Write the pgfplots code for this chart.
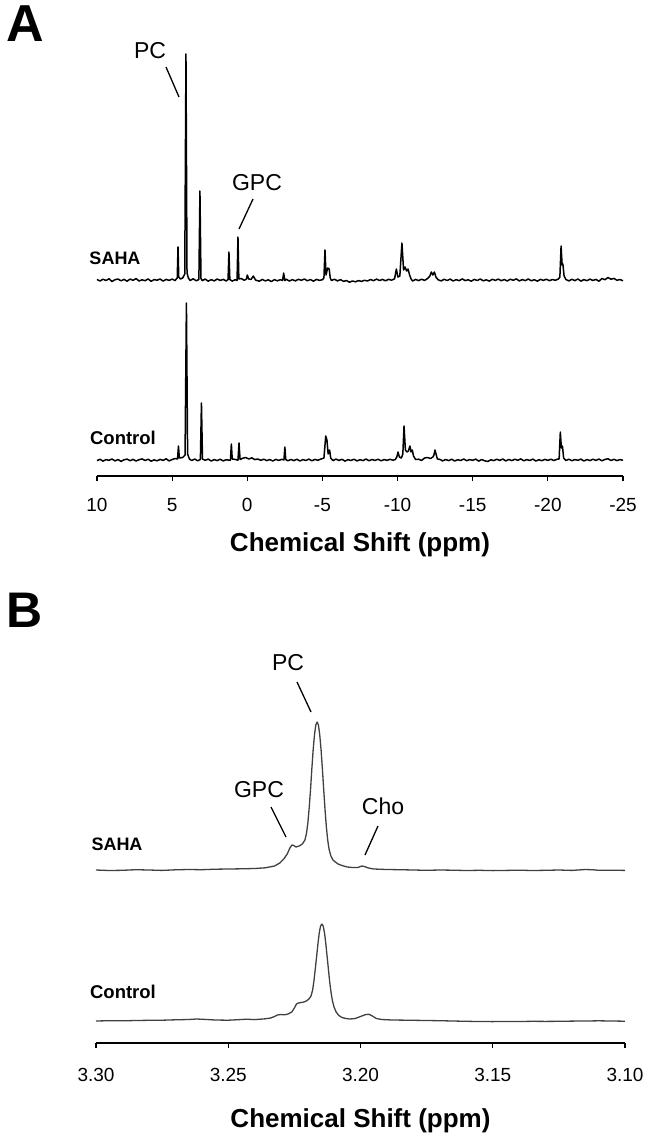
\documentclass[border=0pt]{standalone}
\usepackage{fontspec}
\setmainfont{Liberation Sans}
\usepackage{pgfplots}
\usepackage{pgfplotstable}
\pgfplotsset{compat=1.18}

% panel A, 31P spectra (ppm, intensity)
\pgfplotstableread{
ppm int
10.0 0.5
9.8 -1.0
9.6 0.8
9.4 -0.5
9.2 1.2
9.0 -1.5
8.8 0.3
8.6 1.0
8.4 -0.8
8.2 0.6
8.0 -1.2
7.8 0.9
7.6 -0.3
7.4 1.4
7.2 -1.0
7.0 0.2
6.8 -0.7
6.6 1.1
6.4 -1.3
6.2 0.4
6.0 -0.2
5.8 1.0
5.6 -1.1
5.4 0.6
5.2 -0.4
5.0 0.9
4.8 -0.6
4.7 1.5
4.66 2
4.61 33
4.56 3
4.45 1
4.3 2
4.16 6
4.08 226
4.01 7
3.92 2
3.8 -0.5
3.6 1.2
3.4 -0.8
3.22 0.5
3.15 89
3.08 1.5
3.0 -0.6
2.8 0.9
2.6 -1.2
2.4 0.4
2.2 -0.9
2.0 1.0
1.8 -0.4
1.6 0.6
1.4 -1.0
1.28 0.5
1.22 28
1.16 0.5
1.0 -1.1
0.8 0.3
0.68 -0.5
0.62 43
0.56 1
0.4 1.5
0.2 -0.3
0.05 1
0.0 5
-0.1 1
-0.25 0.5
-0.4 4
-0.55 0
-0.8 -1.2
-1.0 0.6
-1.2 -0.9
-1.4 0.2
-1.6 -1.6
-1.8 0.4
-2.0 -0.8
-2.2 0.3
-2.35 -0.5
-2.42 7
-2.5 -0.6
-2.6 0.8
-2.8 -1.1
-3.0 0.4
-3.2 -0.9
-3.4 0.7
-3.6 -0.3
-3.8 1.0
-4.0 -0.8
-4.2 0.5
-4.4 -1.2
-4.6 0.6
-4.8 -0.4
-5.0 0.3
-5.1 2
-5.17 30
-5.24 5
-5.35 12
-5.45 11
-5.52 2
-5.6 -0.5
-5.8 0.8
-6.0 -0.9
-6.2 0.4
-6.4 -1.3
-6.6 -0.6
-6.8 -2.2
-7.0 -1.0
-7.2 -1.8
-7.4 -0.6
-7.6 -1.4
-7.8 -0.3
-8.0 -1.0
-8.2 0.5
-8.4 -0.7
-8.6 0.9
-8.8 -0.5
-9.0 0.6
-9.2 -0.8
-9.4 0.7
-9.6 -0.2
-9.8 1.2
-9.92 11
-10.02 3
-10.15 4
-10.29 37
-10.4 10
-10.5 13
-10.6 9
-10.7 11
-10.8 5
-10.9 1
-11.0 -1.0
-11.2 0.6
-11.4 -0.6
-11.6 0.8
-11.8 -0.4
-12.0 1.5
-12.15 4
-12.25 8
-12.35 5
-12.45 8
-12.55 3
-12.7 0.2
-12.9 -0.9
-13.1 0.7
-13.3 -0.5
-13.5 0.9
-13.7 -1.0
-13.9 0.4
-14.1 -0.7
-14.3 1.1
-14.5 -0.6
-14.7 0.3
-14.9 -1.2
-15.1 0.6
-15.3 -0.5
-15.5 1.0
-15.7 -0.8
-15.9 0.2
-16.1 -1.1
-16.3 0.7
-16.5 -0.4
-16.7 0.9
-16.9 -0.7
-17.1 0.5
-17.3 -1.0
-17.5 0.8
-17.7 -0.3
-17.9 1.1
-18.1 -0.9
-18.3 0.4
-18.5 -0.6
-18.7 1.0
-18.9 -0.8
-19.1 0.3
-19.3 -1.2
-19.5 0.6
-19.7 -0.4
-19.9 0.8
-20.1 -0.7
-20.3 0.5
-20.5 -0.3
-20.7 1.0
-20.8 3
-20.88 34
-20.95 15
-21.0 16
-21.08 4
-21.2 0.5
-21.4 -0.9
-21.6 0.7
-21.8 -0.6
-22.0 1.0
-22.2 -1.1
-22.4 0.4
-22.6 -0.7
-22.8 0.9
-23.0 -0.5
-23.2 0.6
-23.4 -1.2
-23.6 1.5
-23.8 0.3
-24.0 2.5
-24.2 0.8
-24.4 1.6
-24.6 -0.3
-24.8 0.5
-25.0 -0.8
}\sahaA

\pgfplotstableread{
ppm int
10.0 -0.6
9.8 0.7
9.6 -1.1
9.4 0.4
9.2 -0.3
9.0 1.0
8.8 -0.9
8.6 0.5
8.4 -1.4
8.2 0.2
8.0 0.9
7.8 -0.7
7.6 0.6
7.4 -1.0
7.2 0.3
7.0 1.1
6.8 -0.5
6.6 0.8
6.4 -1.2
6.2 0.1
6.0 -0.8
5.8 0.6
5.6 -0.4
5.4 1.2
5.2 -0.9
5.0 0.5
4.8 1.5
4.64 1
4.58 14
4.52 2
4.3 2.5
4.14 5
4.05 157
3.97 6
3.85 1
3.7 -0.5
3.5 1.0
3.3 -0.8
3.12 0.6
3.05 57
2.98 1
2.8 -0.3
2.6 0.9
2.4 -1.0
2.2 0.4
2.0 -0.6
1.8 0.8
1.6 -0.9
1.4 0.3
1.2 -0.2
1.12 0
1.06 16
1.0 1
0.8 0.6
0.62 -0.2
0.55 17
0.48 0.5
0.3 1.8
0.1 2.5
-0.1 1.0
-0.3 2.2
-0.5 0.4
-0.7 1.0
-0.9 -0.3
-1.1 0.8
-1.3 -0.6
-1.5 0.5
-1.7 -1.0
-1.9 0.6
-2.1 -0.4
-2.3 0.7
-2.44 0
-2.5 13
-2.56 0.5
-2.7 -0.8
-2.9 0.5
-3.1 -0.6
-3.3 0.8
-3.5 -1.0
-3.7 0.4
-3.9 -0.5
-4.1 0.9
-4.3 -0.8
-4.5 0.6
-4.7 -0.3
-4.9 1.0
-5.1 2
-5.22 24
-5.3 20
-5.38 6
-5.48 10
-5.55 2
-5.7 -0.6
-5.9 0.9
-6.1 -0.4
-6.3 0.7
-6.5 -1.1
-6.7 0.4
-6.9 -0.5
-7.1 0.8
-7.3 -0.9
-7.5 0.3
-7.7 -0.6
-7.9 1.0
-8.1 -0.7
-8.3 0.5
-8.5 -0.4
-8.7 0.8
-8.9 -0.8
-9.1 0.4
-9.3 -0.3
-9.5 0.7
-9.7 -0.2
-9.85 0.5
-9.95 3
-10.03 8
-10.12 3
-10.25 2
-10.35 6
-10.43 34
-10.52 10
-10.62 8
-10.72 9
-10.82 14
-10.9 8
-10.98 10
-11.06 4
-11.2 0.5
-11.4 0.8
-11.6 -0.4
-11.8 2
-12.0 2.5
-12.2 1.5
-12.35 3
-12.42 5
-12.49 10
-12.56 6
-12.65 1
-12.8 0.7
-13.0 -0.9
-13.2 0.5
-13.4 -0.6
-13.6 0.8
-13.8 -1.0
-14.0 0.3
-14.2 -0.5
-14.4 1.0
-14.6 -0.7
-14.8 0.4
-15.0 -0.3
-15.2 0.9
-15.4 -1.1
-15.6 0.5
-15.8 -0.8
-16.0 -1.5
-16.2 0.2
-16.4 -0.6
-16.6 0.8
-16.8 -0.4
-17.0 1.0
-17.2 -0.9
-17.4 0.5
-17.6 -0.6
-17.8 0.8
-18.0 -0.3
-18.2 1.1
-18.4 -0.8
-18.6 0.4
-18.8 -0.5
-19.0 0.9
-19.2 -1.0
-19.4 0.3
-19.6 -0.7
-19.8 0.6
-20.0 -0.4
-20.2 0.8
-20.4 -0.5
-20.6 0.7
-20.75 1
-20.83 28
-20.9 12
-20.97 14
-21.05 2
-21.2 -0.5
-21.4 0.8
-21.6 -0.7
-21.8 0.4
-22.0 -0.3
-22.2 0.9
-22.4 -1.0
-22.6 0.5
-22.8 -0.6
-23.0 0.8
-23.2 -0.4
-23.4 1.0
-23.6 -0.8
-23.8 0.6
-24.0 1.2
-24.2 -0.5
-24.4 0.7
-24.6 -0.6
-24.8 0.4
-25.0 -0.3
}\controlA

% panel B, expanded choline region
\pgfplotstableread{
ppm int
3.300 0.0
3.295 -0.5
3.290 -0.3
3.285 0.3
3.280 0.0
3.275 -0.4
3.270 0.2
3.265 0.5
3.260 0.3
3.255 0.8
3.250 1.0
3.245 1.2
3.240 1.5
3.236 2.2
3.2325 4.0
3.2305 7
3.2290 11
3.2277 16
3.2267 22
3.2259 25
3.2252 24.5
3.2244 23
3.2232 24
3.2220 26
3.2210 30
3.2204 37
3.2199 47
3.2194 62
3.2189 80
3.2184 101
3.2179 120
3.2174 135
3.2169 145
3.2164 148
3.2159 145
3.2154 135
3.2149 120
3.2144 101
3.2139 80
3.2134 60
3.2129 43
3.2124 30
3.2119 21
3.2112 14
3.2104 10
3.2095 8
3.2085 6
3.2070 4.5
3.2050 3
3.2030 2.5
3.2010 2.5
3.1995 4
3.1985 3.5
3.1970 2
3.1950 1
3.190 0.5
3.185 0.3
3.180 0.0
3.175 -0.3
3.170 0.0
3.165 -0.2
3.160 -0.5
3.155 -0.3
3.150 -0.6
3.145 -0.4
3.140 -0.2
3.135 -0.5
3.130 -0.3
3.125 0.0
3.120 -0.4
3.115 0.5
3.112 0.2
3.110 -0.3
3.105 -0.2
3.100 -0.4
}\sahaB

\pgfplotstableread{
ppm int
3.300 0.0
3.295 0.3
3.290 0.2
3.285 0.5
3.280 0.7
3.275 0.8
3.270 1.2
3.265 1.5
3.262 2.0
3.258 1.5
3.255 1.0
3.250 0.8
3.247 1.2
3.243 1.8
3.240 1.4
3.236 2.2
3.2340 3.0
3.2325 4.5
3.2315 6.0
3.2300 6.5
3.2290 6.2
3.2280 6.5
3.2270 7.5
3.2260 9
3.2250 13
3.2242 17
3.2235 18
3.2225 18.5
3.2214 19
3.2205 20
3.2195 22
3.2187 25
3.2181 31
3.2176 40
3.2171 52
3.2166 64
3.2161 77
3.2156 88
3.2151 95
3.2146 97
3.2141 95
3.2136 88
3.2131 77
3.2126 64
3.2121 51
3.2116 38
3.2111 28
3.2106 20
3.2100 14
3.2092 9
3.2082 5.5
3.2070 3.5
3.2055 2.5
3.2040 2
3.2020 2.5
3.2000 4.5
3.1980 6.5
3.1968 6.7
3.1955 5
3.1940 2.5
3.1920 1.5
3.188 1.0
3.182 0.8
3.175 0.5
3.170 0.3
3.165 0.0
3.160 -0.3
3.155 -0.5
3.150 -0.6
3.145 -0.4
3.140 -0.5
3.135 -0.3
3.130 -0.4
3.125 -0.3
3.120 -0.1
3.115 0.0
3.110 0.2
3.105 0.0
3.100 -0.2
}\controlB

\pgfplotsset{
  nmr/.style={
    scale only axis, anchor=south west, clip=false,
    x dir=reverse,
    axis x line=bottom, axis y line=none,
    x axis line style={-, line width=1.6pt},
    xtick align=outside, major tick length=5pt,
    tick style={black, line width=1.2pt},
    xticklabel style={font=\fontsize{19}{22}\selectfont, anchor=center},
    xlabel style={font=\bfseries\fontsize{26}{30}\selectfont, at={(axis description cs:0.5,0)}, anchor=center},
  },
  spec/.style={line width=1.3pt, line join=round},
}

\begin{document}
\begin{tikzpicture}
\useasboundingbox (0pt,0pt) rectangle (647pt,-1139pt);

% ---------------- panel A ----------------
\begin{axis}[nmr,
  at={(97pt,-476pt)}, width=526pt, height=436pt,
  xmin=-25, xmax=10, ymin=0, ymax=436,
  xtick={-25,-20,-15,-10,-5,0,5,10},
  xticklabels={-25,-20,-15,-10,-5,0,5,10},
  xticklabel style={yshift=-24pt},
  xlabel={Chemical Shift (ppm)},
  xlabel style={yshift=-69pt},
]
\addplot[spec, black, line width=1.5pt] table[x=ppm, y expr=\thisrow{int}+196] {\sahaA};
\addplot[spec, black, line width=1.5pt] table[x=ppm, y expr=\thisrow{int}+16] {\controlA};
\end{axis}

% ---------------- panel B ----------------
\begin{axis}[nmr,
  at={(96pt,-1043pt)}, width=529pt, height=403pt,
  xmin=3.10, xmax=3.30, ymin=0, ymax=403,
  xtick={3.10,3.15,3.20,3.25,3.30},
  xticklabels={3.10,3.15,3.20,3.25,3.30},
  xticklabel style={yshift=-27pt},
  xlabel={Chemical Shift (ppm)},
  xlabel style={yshift=-78pt},
]
\addplot[spec, black!75] table[x=ppm, y expr=\thisrow{int}+173] {\sahaB};
\addplot[spec, black!75] table[x=ppm, y expr=\thisrow{int}+22] {\controlB};
\end{axis}

% panel letters
\node[font=\bfseries\fontsize{52}{56}\selectfont] at (25pt,-24pt) {A};
\node[font=\bfseries\fontsize{50}{54}\selectfont] at (25pt,-610pt) {B};

% spectrum names
\node[font=\bfseries\fontsize{18}{20}\selectfont] at (115pt,-258pt) {SAHA};
\node[font=\bfseries\fontsize{18.5}{20}\selectfont] at (123pt,-438pt) {Control};
\node[font=\bfseries\fontsize{18}{20}\selectfont] at (117pt,-844pt) {SAHA};
\node[font=\bfseries\fontsize{18.5}{20}\selectfont] at (123pt,-992pt) {Control};

% peak assignments, panel A
\node[font=\fontsize{23}{26}\selectfont] at (150pt,-51pt) {PC};
\draw[line width=1.3pt] (166pt,-67pt) -- (179pt,-97pt);
\node[font=\fontsize{23}{26}\selectfont] at (257pt,-183pt) {GPC};
\draw[line width=1.3pt] (253pt,-199pt) -- (239pt,-229pt);

% peak assignments, panel B
\node[font=\fontsize{23}{26}\selectfont] at (288pt,-663pt) {PC};
\draw[line width=1.3pt] (297pt,-682pt) -- (311pt,-712pt);
\node[font=\fontsize{23}{26}\selectfont] at (259pt,-790pt) {GPC};
\draw[line width=1.3pt] (271pt,-807pt) -- (286pt,-837pt);
\node[font=\fontsize{23}{26}\selectfont] at (383pt,-806pt) {Cho};
\draw[line width=1.3pt] (378pt,-826pt) -- (365pt,-855pt);
\end{tikzpicture}
\end{document}
